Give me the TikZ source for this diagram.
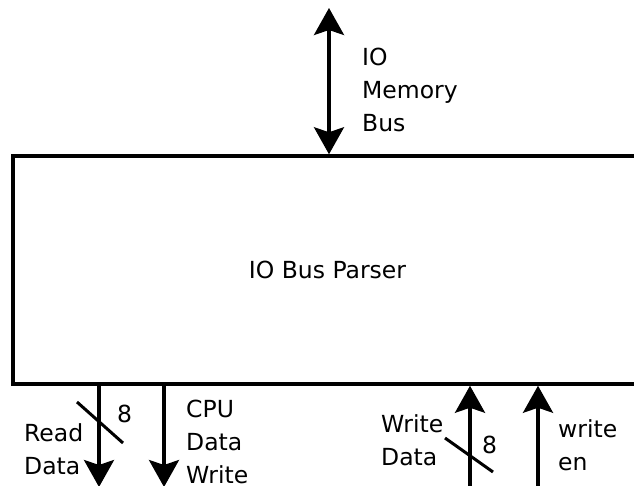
\documentclass[tikz,border=0pt]{standalone}
\usepackage{fontspec}
\setmainfont{DejaVu Sans}
\usetikzlibrary{arrows.meta}

\tikzset{
  lbl/.style={anchor=base west, inner sep=0pt, font=\fontsize{23.5}{33}\selectfont},
  sig/.style={line width=3.5pt, -{Stealth[length=27pt, width=30pt, inset=5pt]}},
  bus/.style={line width=3.5pt, {Stealth[length=27pt, width=30pt, inset=5pt]}-{Stealth[length=27pt, width=30pt, inset=5pt]}},
  widthmark/.style={line width=3pt},
  block/.style={draw, line width=3.5pt, minimum width=629pt, minimum height=228pt, inner sep=0pt,
                font=\fontsize{23.5}{33}\selectfont}
}

\newcommand{\stack}[1]{\begin{tabular}[t]{@{}l@{}}#1\end{tabular}}

\begin{document}
\begin{tikzpicture}[x=1pt, y=-1pt]
  \useasboundingbox (0,0) rectangle (634,485);

  % parser block (runs off the right edge)
  \node[block] (parser) at (327.5,270) {IO Bus Parser};

  % memory bus on top
  \coordinate (busend) at (329,8);
  \draw[bus] (parser.north -| busend) -- (busend);
  \node[lbl] (buslbl) at (362,65) {\stack{IO\\Memory\\Bus}};

  % outputs
  \coordinate (readend) at (99,487);
  \coordinate (cpuend) at (164,487);
  \draw[sig] (parser.south -| readend) -- (readend);
  \draw[sig] (parser.south -| cpuend) -- (cpuend);
  \draw[widthmark] (77,402) -- (123,443);
  \node[lbl] (readw) at (117,422) {8};
  \node[lbl] (readlbl) at (24,441) {\stack{Read\\Data}};
  \node[lbl] (cpulbl) at (186,417) {\stack{CPU\\Data\\Write}};

  % inputs
  \coordinate (wdstart) at (470,490);
  \coordinate (wenstart) at (538,490);
  \draw[sig] (wdstart) -- (parser.south -| wdstart);
  \draw[sig] (wenstart) -- (parser.south -| wenstart);
  \draw[widthmark] (445,438) -- (493,472);
  \node[lbl] (wdw) at (482,453) {8};
  \node[lbl] (wdlbl) at (381,432) {\stack{Write\\Data}};
  \node[lbl] (wenlbl) at (558,437) {\stack{write\\en}};
\end{tikzpicture}
\end{document}
